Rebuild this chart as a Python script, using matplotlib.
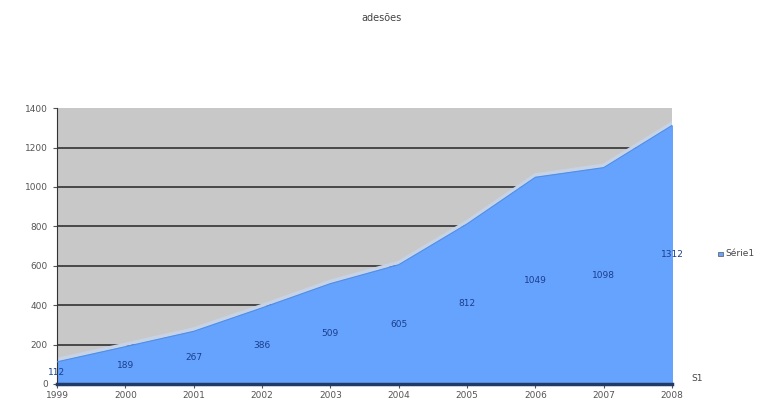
import matplotlib.pyplot as plt
import numpy as np

years = [1999, 2000, 2001, 2002, 2003, 2004, 2005, 2006, 2007, 2008]
adesoes = [112, 189, 267, 386, 509, 605, 812, 1049, 1098, 1312]
yticks = [0, 200, 400, 600, 800, 1000, 1200, 1400]

fig = plt.figure(figsize=(7.64, 4.05), dpi=100)
ax = fig.add_axes([0.0746, 0.052, 0.805, 0.681])

# back wall
ax.set_facecolor('#c8c8c8')
for t in yticks[1:-1]:
    ax.axhline(t, color='#333333', lw=1.2, zorder=1)

# area with light top face
ax.fill_between(years, adesoes, 0, color='#66a3ff', zorder=2)
ax.plot(years, np.array(adesoes) + 12, color='#c6d3e6', lw=2.5, zorder=1.5)
ax.plot(years, adesoes, color='#4f8fe8', lw=0.8, zorder=3)

# data labels in the middle of the area
for x, v in zip(years, adesoes):
    ax.text(x, v / 2, str(v), ha='center', va='center', fontsize=6.5,
            color='#1a3e8c', zorder=4)

ax.set_xlim(1999, 2008)
ax.set_ylim(0, 1400)
ax.set_xticks(years)
ax.set_yticks(yticks)
ax.tick_params(labelsize=6.5, colors='#555555', length=3)
ax.tick_params(axis='x', pad=2)

for s in ['top', 'right']:
    ax.spines[s].set_visible(False)
ax.spines['left'].set_color('#333333')
ax.spines['bottom'].set_color('#1f3b66')
ax.spines['bottom'].set_linewidth(2.5)

fig.text(0.5, 0.955, 'adesões', ha='center', va='center', fontsize=7, color='#444444')
fig.text(0.905, 0.066, 'S1', ha='left', va='center', fontsize=6.5, color='#444444')

# legend
fig.patches.append(plt.Rectangle((0.940, 0.367), 0.006, 0.012, transform=fig.transFigure,
                                 facecolor='#66a3ff', edgecolor='#555555', lw=0.5))
fig.text(0.950, 0.373, 'Série1', ha='left', va='center', fontsize=6.5, color='#444444')

plt.savefig('out.png', dpi=100)
